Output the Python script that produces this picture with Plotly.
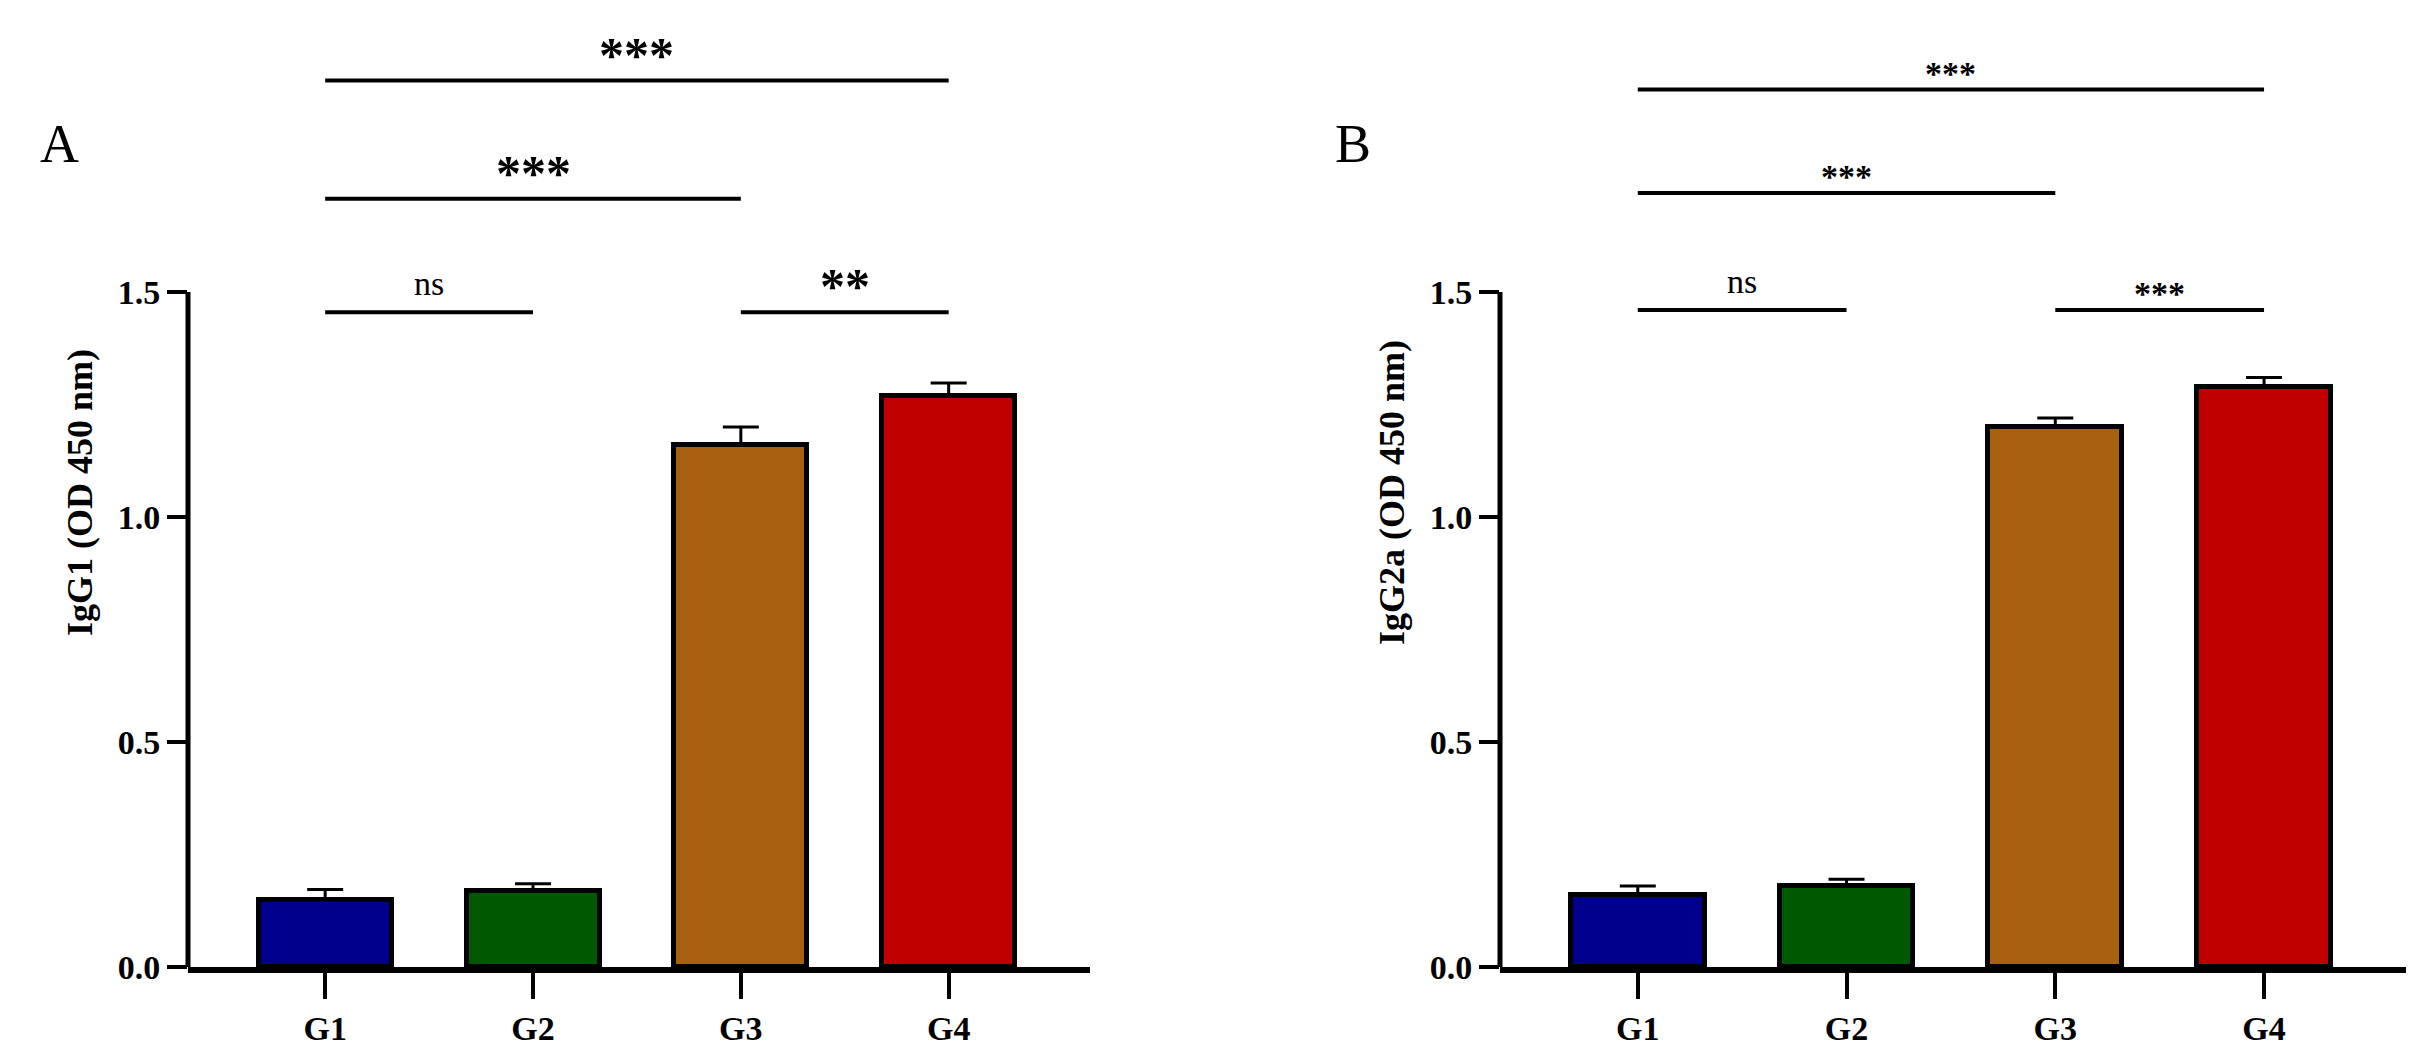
import plotly.graph_objects as go

groups = ["G1", "G2", "G3", "G4"]
igg1_vals = [0.15, 0.17, 1.16, 1.27]
igg1_err = [0.022, 0.015, 0.04, 0.028]
igg2a_vals = [0.16, 0.18, 1.20, 1.29]
igg2a_err = [0.02, 0.015, 0.02, 0.02]
colors = ["#00008C", "#005800", "#A8620F", "#C00000"]
yticks = [0.0, 0.5, 1.0, 1.5]
# comparisons: (start group, end group, y level, label)
sig_a = [("G1", "G2", 1.455, "ns"), ("G3", "G4", 1.455, "**"),
         ("G1", "G3", 1.707, "***"), ("G1", "G4", 1.97, "***")]
sig_b = [("G1", "G2", 1.46, "ns"), ("G3", "G4", 1.46, "***"),
         ("G1", "G3", 1.72, "***"), ("G1", "G4", 1.95, "***")]

W, H = 2421, 1054
fig = go.Figure()
serif = "Liberation Serif"

panels = [
    ("x", "y", igg1_vals, igg1_err, sig_a, "A", 30, 50),
    ("x2", "y2", igg2a_vals, igg2a_err, sig_b, "B", 1325, 34),
]
top, bottom = 10, 959
ymax = (bottom - top) / 450.0
for xa, ya, vals, errs, sigs, letter, lx, starsize in panels:
    fig.add_trace(go.Bar(
        x=list(range(len(groups))), y=vals, xaxis=xa, yaxis=ya, width=0.64,
        marker=dict(color=colors, line=dict(color="black", width=5)),
        error_y=dict(type="data", array=errs, symmetric=False, arrayminus=[0]*4,
                     color="black", thickness=3, width=18),
        showlegend=False))
    # y axis line only up to the top tick
    fig.add_shape(type="line", xref=xa + " domain", yref=ya, x0=0, x1=0, y0=0, y1=max(yticks),
                  line=dict(color="black", width=5))
    for g1, g2, lvl, lab in sigs:
        i1, i2 = groups.index(g1), groups.index(g2)
        fig.add_shape(type="line", xref=xa, yref=ya, x0=i1, x1=i2, y0=lvl, y1=lvl,
                      line=dict(color="black", width=4))
        is_ns = lab == "ns"
        fig.add_annotation(xref=xa, yref=ya, x=(i1 + i2) / 2, y=lvl, text=lab if is_ns else "<b>" + lab + "</b>",
                           showarrow=False, yanchor="bottom", yshift=8 if is_ns else -4,
                           font=dict(family=serif, size=34 if is_ns else starsize, color="black"))
    fig.add_annotation(xref="paper", yref="paper", x=lx / W, y=1 - 140 / H, text=letter,
                       showarrow=False, xanchor="left", yanchor="middle",
                       font=dict(family=serif, size=54, color="black"))

axis_common = dict(ticks="outside", tickwidth=4, ticklen=20, tickcolor="black",
                   showgrid=False, zeroline=False,
                   tickfont=dict(family=serif, size=34, color="black"))
for name, (x0, x1) in [("xaxis", (180, 1082)), ("xaxis2", (1492, 2398))]:
    fig.layout[name] = dict(axis_common, domain=[x0 / W, x1 / W], range=[-0.66, 3.68],
                            showline=True, linecolor="black", linewidth=6, ticklen=26,
                            tickvals=list(range(4)), ticktext=["<b>%s</b>" % g for g in groups],
                            anchor="y" if name == "xaxis" else "y2")
for name, title in [("yaxis", "IgG1 (OD 450 nm)"), ("yaxis2", "IgG2a (OD 450 nm)")]:
    fig.layout[name] = dict(axis_common, domain=[0, 1], range=[0, ymax], showline=False,
                            tickvals=yticks, ticktext=["<b>%.1f</b>" % t for t in yticks],
                            title=dict(text="<b>%s</b>" % title, font=dict(family=serif, size=36, color="black"), standoff=14),
                            anchor="x" if name == "yaxis" else "x2")

fig.update_layout(width=W, height=H, margin=dict(l=0, r=0, t=top, b=H - bottom),
                  plot_bgcolor="white", paper_bgcolor="white", bargap=0)
fig.write_html("out.html")
